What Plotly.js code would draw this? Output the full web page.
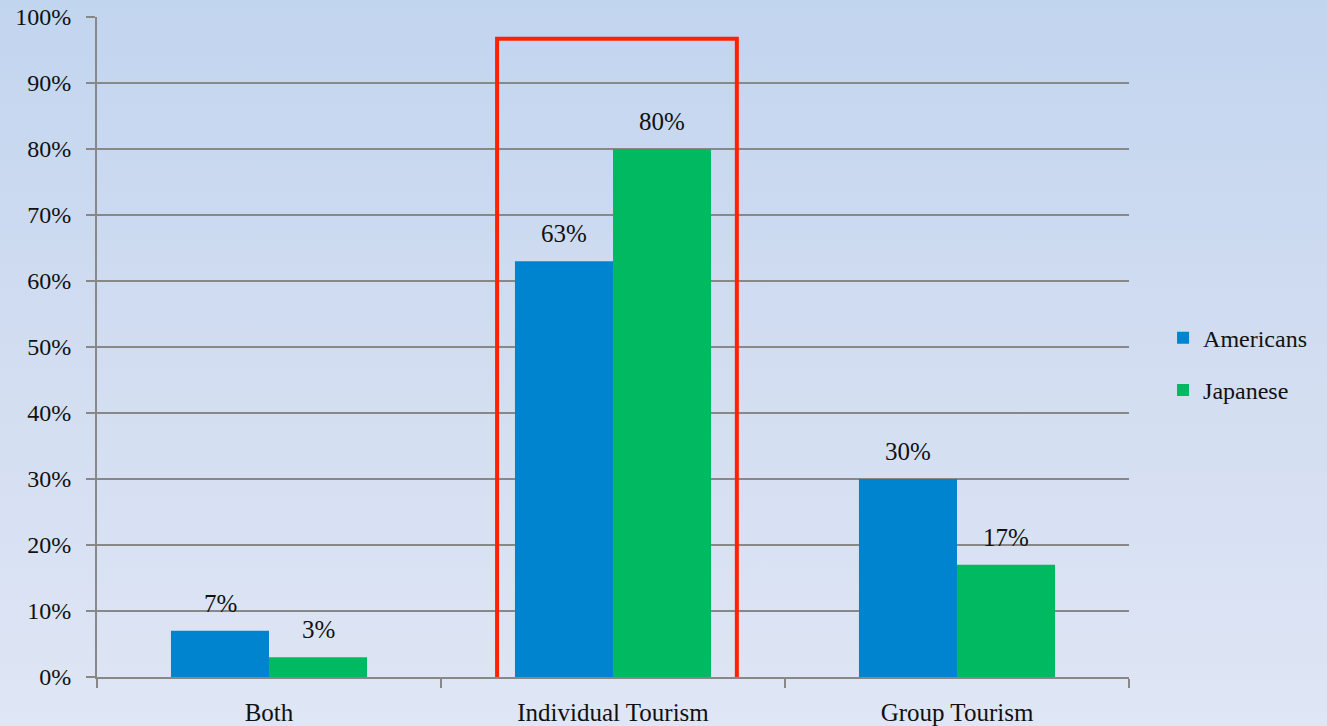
<!DOCTYPE html>
<html><head><meta charset="utf-8">
<script src="https://cdn.plot.ly/plotly-3.0.1.min.js"></script>
<style>
html,body{margin:0;padding:0;width:1327px;height:726px;overflow:hidden;
background:linear-gradient(to bottom,#c2d5ef 0%,#d2ddf1 50%,#dfe6f5 100%);}
#chart{width:1327px;height:726px;}
</style></head><body>
<div id="chart"></div>
<script>
const categories = ["Both", "Individual Tourism", "Group Tourism"];
const americans = [7, 63, 30];
const japanese = [3, 80, 17];
const seriesNames = ["Americans", "Japanese"];
const yTicks = [0,10,20,30,40,50,60,70,80,90,100];

const FONT = "Liberation Serif, DejaVu Serif, serif";
const traces = [
  {type:'bar', name:seriesNames[0], legendgroup:'a', x:categories, y:americans,
   marker:{color:'#0084cf'}},
  {type:'bar', name:seriesNames[1], legendgroup:'b', x:categories, y:japanese,
   marker:{color:'#00b960'}}
];
const annotations = [];
[[americans,-49],[japanese,49]].forEach(([arr,dx])=>{
  arr.forEach((v,i)=>annotations.push({xref:'x', yref:'y', x:categories[i], y:v,
    text:v+'%', showarrow:false, xshift:dx, yshift:5, yanchor:'bottom',
    font:{family:FONT,size:25,color:'#111'}, borderpad:8}));
});
const layout = {
  width:1327, height:726,
  paper_bgcolor:'rgba(0,0,0,0)', plot_bgcolor:'rgba(0,0,0,0)',
  margin:{l:97, r:198, t:17, b:49, autoexpand:false},
  barmode:'group', bargap:0.43, bargroupgap:0,
  font:{family:FONT, color:'#111', size:24},
  showlegend:true,
  legend:{x:1.033, y:0.474, xanchor:'left', yanchor:'middle', font:{family:FONT,size:24,color:'#111'},
    tracegroupgap:18, itemwidth:30, bgcolor:'rgba(0,0,0,0)'},
  xaxis:{type:'category', tickson:'boundaries', ticks:'outside', ticklen:9, tickcolor:'#888', tickwidth:2,
    showline:true, linecolor:'#888', linewidth:2, showgrid:false, ticklabelstandoff:12,
    tickfont:{family:FONT,size:25,color:'#111'}},
  yaxis:{range:[0,100], tickvals:yTicks, ticktext:yTicks.map(v=>v+'%'),
    ticks:'outside', ticklen:9, tickcolor:'#888', tickwidth:2,
    showline:true, linecolor:'#888', linewidth:2,
    showgrid:true, gridcolor:'#888', gridwidth:2, zeroline:false,
    tickfont:{family:FONT,size:24,color:'#111'}, ticklabelstandoff:10},
  annotations:annotations,
  shapes:[{type:'rect', xref:'x', yref:'y', x0:0.663, x1:1.36, y0:-0.45, y1:96.7,
    line:{color:'#ff2200', width:4}, fillcolor:'rgba(0,0,0,0)'}]
};
Plotly.newPlot('chart', traces, layout, {displayModeBar:false, staticPlot:true});
</script>
</body></html>
